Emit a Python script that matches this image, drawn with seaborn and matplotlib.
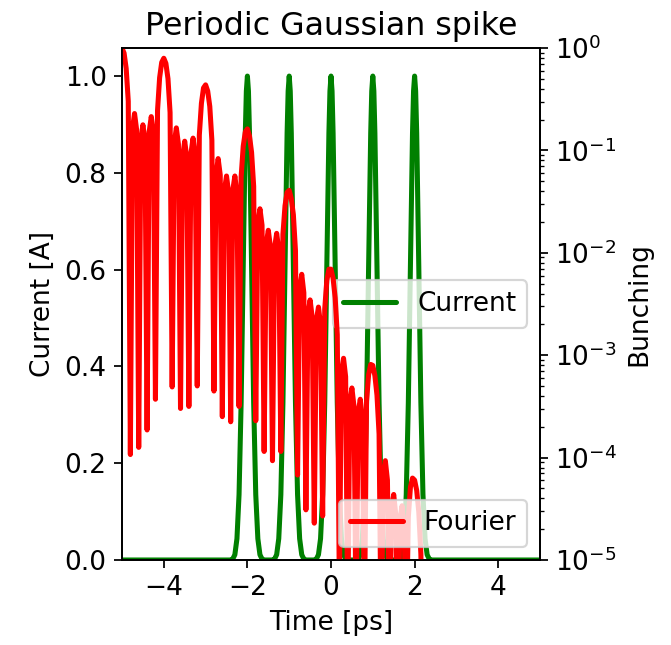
import numpy as np
import pandas as pd
import matplotlib
matplotlib.use("Agg")
import matplotlib.pyplot as plt
import seaborn as sns

# ---------------- data ----------------
spike_centers = [-2.0, -1.0, 0.0, 1.0, 2.0]          # ps
spike_offsets = [-0.4, -0.35, -0.3, -0.25, -0.2, -0.15, -0.1, -0.05, -0.025, 0.0,
                 0.025, 0.05, 0.1, 0.15, 0.2, 0.25, 0.3, 0.35, 0.4]
spike_heights = [0.0, 0.002, 0.011, 0.044, 0.135, 0.325, 0.607, 0.882, 0.969, 1.0,
                 0.969, 0.882, 0.607, 0.325, 0.135, 0.044, 0.011, 0.002, 0.0]
time_range = [-5.0, 5.0]

# Fourier (bunching) curve: x position and log10(bunching)
fourier_x = [
    -5.0, -4.95, -4.9, -4.85, -4.8,
    -4.75, -4.7, -4.65, -4.6,
    -4.55, -4.5, -4.45, -4.4,
    -4.35, -4.3, -4.25, -4.2,
    -4.15, -4.1, -4.05, -4.0, -3.95, -3.9, -3.85, -3.8,
    -3.75, -3.7, -3.65, -3.6,
    -3.55, -3.5, -3.45, -3.4,
    -3.35, -3.3, -3.25, -3.2,
    -3.15, -3.1, -3.05, -3.0, -2.95, -2.9, -2.85, -2.8,
    -2.75, -2.7, -2.65, -2.6,
    -2.55, -2.5, -2.45, -2.4,
    -2.35, -2.3, -2.25, -2.2,
    -2.15, -2.1, -2.05, -2.0, -1.95, -1.9, -1.85, -1.8,
    -1.75, -1.7, -1.65, -1.6,
    -1.55, -1.5, -1.45, -1.4,
    -1.35, -1.3, -1.25, -1.2,
    -1.15, -1.1, -1.05, -1.0, -0.95, -0.9, -0.85, -0.8,
    -0.75, -0.7, -0.65, -0.6,
    -0.55, -0.5, -0.45, -0.4,
    -0.35, -0.3, -0.25, -0.2,
    -0.15, -0.1, -0.05, 0.0, 0.05, 0.1, 0.15, 0.2,
    0.25, 0.3, 0.35, 0.4,
    0.45, 0.5, 0.55, 0.6,
    0.65, 0.7, 0.75, 0.8,
    0.85, 0.9, 0.95, 1.0, 1.05, 1.1, 1.15, 1.2,
    1.25, 1.3, 1.35, 1.4,
    1.45, 1.5, 1.55, 1.6,
    1.65, 1.7, 1.75, 1.8,
    1.85, 1.9, 1.95, 2.0, 2.05, 2.1, 2.15, 2.2,
    2.25, 2.3, 2.35, 2.4,
]
fourier_log10 = [
    0.0, -0.05, -0.2, -0.52, -3.97,
    -0.79, -0.64, -0.80, -3.90,
    -0.90, -0.75, -0.90, -3.73,
    -0.82, -0.67, -0.82, -3.43,
    -0.61, -0.29, -0.14, -0.10, -0.15, -0.30, -0.63, -3.31,
    -0.93, -0.78, -0.94, -3.52,
    -1.06, -0.91, -1.07, -3.50,
    -1.03, -0.88, -1.04, -3.30,
    -0.85, -0.54, -0.39, -0.36, -0.42, -0.57, -0.90, -3.35,
    -1.23, -1.08, -1.24, -3.60,
    -1.39, -1.25, -1.41, -3.65,
    -1.39, -1.25, -1.42, -3.50,
    -1.26, -0.96, -0.82, -0.79, -0.86, -1.02, -1.35, -3.64,
    -1.71, -1.57, -1.73, -3.94,
    -1.91, -1.78, -1.94, -4.03,
    -1.95, -1.81, -1.97, -3.94,
    -1.82, -1.54, -1.41, -1.39, -1.47, -1.63, -1.98, -4.17,
    -2.34, -2.21, -2.39, -4.51,
    -2.59, -2.46, -2.63, -4.64,
    -2.66, -2.53, -2.70, -4.57,
    -2.55, -2.27, -2.16, -2.16, -2.25, -2.44, -2.80, -5.3,
    -3.16, -3.03, -3.21, -5.6,
    -3.45, -3.32, -3.50, -5.6,
    -3.56, -3.43, -3.62, -5.6,
    -3.45, -3.19, -3.09, -3.10, -3.20, -3.39, -3.77, -5.8,
    -4.15, -4.03, -4.22, -5.8,
    -4.48, -4.36, -4.56, -5.8,
    -4.60, -4.47, -4.68, -5.8,
    -4.58, -4.29, -4.20, -4.22, -4.32, -4.53, -4.94, -6.0,
    -5.4, -5.25, -5.45, -6.0,
]

# ---------------- build tables ----------------
cur_x = [time_range[0]]
cur_y = [0.0]
for c in spike_centers:
    for o, h in zip(spike_offsets, spike_heights):
        cur_x.append(c + o)
        cur_y.append(h)
cur_x.append(time_range[1])
cur_y.append(0.0)
current_df = pd.DataFrame({"t": cur_x, "I": cur_y})
fourier_df = pd.DataFrame({"t": fourier_x, "b": 10.0 ** np.array(fourier_log10)})

# ---------------- figure ----------------
sns.set_style("ticks")
plt.rcParams.update({
    "font.family": ["DejaVu Sans"],
    "font.size": 12,
    "axes.linewidth": 0.8,
    "xtick.direction": "out",
    "ytick.direction": "out",
    "xtick.major.size": 3.5,
    "ytick.major.size": 3.5,
    "ytick.minor.size": 2,
    "xtick.major.width": 0.8,
    "ytick.major.width": 0.8,
    "ytick.minor.width": 0.6,
    "axes.edgecolor": "black",
    "xtick.color": "black",
    "ytick.color": "black",
    "axes.labelcolor": "black",
    "text.color": "black",
})

DPI = 158
fig = plt.figure(figsize=(671 / DPI, 645 / DPI), dpi=DPI)
ax1 = fig.add_axes([122 / 671, 1 - 560 / 645, (540 - 122) / 671, (560 - 48) / 645])

sns.lineplot(data=current_df, x="t", y="I", ax=ax1, color="green", lw=2.3,
             sort=False, estimator=None, label="Current")
ax1.set_xlim(-5, 5)
ax1.set_ylim(0, 1.058)
ax1.set_xticks([-4, -2, 0, 2, 4])
ax1.set_yticks([0.0, 0.2, 0.4, 0.6, 0.8, 1.0])
ax1.set_xlabel("Time [ps]")
ax1.set_ylabel("Current [A]")
ax1.set_title("Periodic Gaussian spike", fontsize=14.4)
ax1.legend(loc="center right")

ax2 = ax1.twinx()
sns.lineplot(data=fourier_df, x="t", y="b", ax=ax2, color="red", lw=2.3,
             sort=False, estimator=None, label="Fourier")
ax2.set_yscale("log")
ax2.set_ylim(1e-5, 1)
ax2.set_xlim(-5, 5)
ax2.set_ylabel("Bunching")
ax2.legend(loc="lower right")

for ax in (ax1, ax2):
    for s in ax.spines.values():
        s.set_visible(True)
        s.set_color("black")

fig.savefig("out.png", dpi=DPI)
